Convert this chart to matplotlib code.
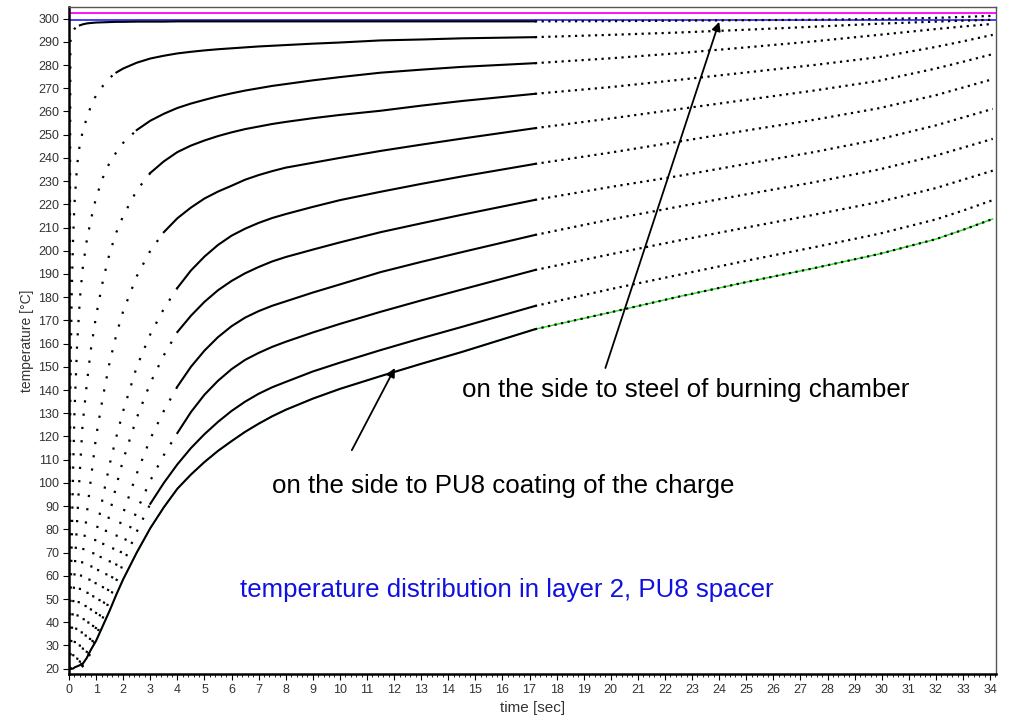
import matplotlib
matplotlib.use("Agg")
import matplotlib.pyplot as plt
from matplotlib.ticker import MultipleLocator

plt.rcParams["font.family"] = ["Liberation Sans", "DejaVu Sans"]

# sample times [s] shared by all nodes of the layer
t_sec = [0, 0.05, 0.1, 0.15, 0.2, 0.3, 0.4, 0.5, 0.65, 0.8, 1, 1.25, 1.5, 1.75, 2, 2.5, 3,
         3.5, 4, 4.5, 5, 5.5, 6, 6.5, 7, 7.5, 8, 9, 10, 11.5, 13, 14.5, 17.2,
         20, 22.5, 25, 27.5, 29.9, 32, 33, 34.1]

# node temperatures [degC], node_01 = steel side ... node_11 = PU8 coating side
node_01 = [20, 290, 293.5, 294.8, 295.6, 296.5, 297.1, 297.5, 297.9, 298.1, 298.3, 298.4, 298.5,
           298.6, 298.6, 298.7, 298.7, 298.7, 298.8, 298.8, 298.8, 298.8, 298.8, 298.8, 298.8,
           298.8, 298.8, 298.8, 298.8, 298.8, 298.8, 298.8, 298.8,
           298.9, 299.1, 299.3, 299.5, 299.8, 300.3, 300.7, 301.2]
node_02 = [20, 140, 182, 205, 220, 237, 246, 251, 257, 262, 267, 271, 274.5,
           276.8, 278.5, 281, 282.8, 284, 285, 285.7, 286.3, 286.8, 287.2, 287.6, 288,
           288.3, 288.6, 289.2, 289.7, 290.6, 291.0, 291.5, 292.0,
           293.0, 294.0, 295.2, 296.5, 297.8, 298.7, 299.1, 299.5]
node_03 = [20, 45, 75, 105, 130, 160, 179, 192, 204, 213, 223, 231.5, 238,
           242.5, 246.5, 252, 256, 259, 261.5, 263.4, 265, 266.5, 267.8, 269.0, 270.0,
           271.0, 271.8, 273.4, 274.8, 276.7, 278.0, 279.2, 280.8,
           282.9, 285.1, 287.6, 290.2, 293.0, 295.5, 296.6, 297.7]
node_04 = [20, 24, 35, 47, 60, 84, 105, 125, 142, 157, 172, 187, 199,
           208, 215, 226, 233.5, 238.5, 242.5, 245.3, 247.5, 249.4, 251, 252.4, 253.5,
           254.6, 255.5, 257.1, 258.5, 260.3, 262.5, 264.5, 267.6,
           270.5, 273.6, 276.8, 280.0, 283.4, 287.8, 290.2, 293.0]
node_05 = [20, 20.5, 22, 25, 30, 41, 54, 68, 86, 101, 120, 137, 152,
           164, 174, 189, 200, 208, 214, 218.6, 222.5, 225.5, 228, 230.6, 232.6,
           234.3, 235.8, 237.9, 240.0, 243.0, 245.7, 248.3, 252.8,
           257.0, 261.0, 265.0, 269.0, 273.2, 278.5, 281.4, 284.7]
node_06 = [20, 20, 20, 20.5, 21, 24, 30, 38, 50, 62, 78, 94, 108,
           120, 131, 150, 164, 175, 184, 191.5, 197.5, 202.5, 206.5, 209.5, 212,
           214.1, 215.8, 218.9, 221.8, 225.4, 228.8, 232.0, 237.4,
           242.3, 247.0, 251.8, 256.4, 261.4, 267.0, 270.3, 273.9]
node_07 = [20, 20, 20, 20, 20, 21, 23, 28, 36, 45, 58, 73, 87,
           99, 110, 128, 143, 155, 165, 172, 178, 183, 187, 190.3, 193,
           195.4, 197.3, 200.5, 203.6, 208.0, 211.8, 215.5, 221.9,
           227.5, 232.2, 237.4, 242.5, 248.0, 254.0, 257.4, 261.1]
node_08 = [20, 20, 20, 20, 20, 20, 21, 23, 27, 34, 44, 55, 66,
           77, 87, 104, 119, 131, 141.5, 150, 157, 162.8, 167.5, 171.2, 174,
           176.3, 178.2, 182.0, 185.5, 190.8, 195.2, 199.4, 206.8,
           213.5, 219.0, 224.3, 229.5, 235.0, 241.0, 244.4, 248.2]
node_09 = [20, 20, 20, 20, 20, 20, 20.5, 21.5, 24, 29, 38, 47, 56,
           65, 73, 88, 101, 112, 121.5, 130.5, 138, 144, 149, 153, 156,
           158.6, 160.8, 164.8, 168.5, 173.7, 178.6, 183.3, 191.7,
           198.5, 204.4, 210.0, 215.5, 221.0, 227.0, 230.6, 234.5]
node_10 = [20, 20, 20, 20, 20, 20, 20, 21, 23, 27, 34, 42, 50,
           58, 65.5, 79, 91, 100, 108, 115, 121, 126.3, 131, 135, 138.4,
           141.2, 143.5, 148.0, 151.8, 157.2, 162.3, 167.2, 176.2,
           183.5, 189.6, 195.7, 201.5, 207.3, 213.5, 217.3, 221.8]
node_11 = [20, 20, 20, 20, 20.5, 21, 21.5, 22, 24.5, 28, 32, 38.5, 45,
           52, 58.5, 70, 80.5, 89.5, 97.5, 103.6, 109, 113.8, 118, 122, 125.5,
           128.7, 131.5, 136.3, 140.5, 146.0, 151.3, 156.4, 166.2,
           173.5, 180.2, 186.5, 192.5, 198.6, 205.0, 209.0, 213.7]

nodes = [node_01, node_02, node_03, node_04, node_05, node_06,
         node_07, node_08, node_09, node_10, node_11]

# time after which the 0.1 s samples sit close enough to read as a line
dense_from = [0.4, 1.75, 2.5, 3, 3.5, 4, 4, 4, 4, 3, 0]
coarse_after = 17.2   # output step gets coarser here

steel_limit = 302.3
steel_level = 299.2

fig = plt.figure(figsize=(10.12, 7.2), dpi=100)
ax = fig.add_axes([0.0682, 0.0639, 0.916, 0.9264])

ax.axhline(steel_limit, color="#ff00ff", lw=1.3, zorder=1)
ax.axhline(steel_level, color="#3030ff", lw=1.3, zorder=1)

# green reference trace under the coating-side node
i0 = t_sec.index(0.5)
ax.plot(t_sec[i0:], node_11[i0:], color="#22dd22", lw=1.0, zorder=2)

j = t_sec.index(coarse_after)
for temps, td in zip(nodes, dense_from):
    k = t_sec.index(td)
    if k > 0:
        ax.plot(t_sec[:k + 1], temps[:k + 1], color="k", lw=1.6, ls=(0, (1, 5)), zorder=3)
    ax.plot(t_sec[k:j + 1], temps[k:j + 1], color="k", lw=1.5, zorder=3)
    ax.plot(t_sec[j:], temps[j:], color="k", lw=1.6, ls=(0, (1, 2.0)), zorder=3)

ax.set_xlim(0, 34.22)
ax.set_ylim(17.7, 305)
ax.set_xticks(range(0, 35))
ax.xaxis.set_minor_locator(MultipleLocator(0.2))
ax.set_yticks(range(20, 301, 10))
ax.tick_params(axis="both", which="major", length=4, width=0.8, labelsize=9,
               labelcolor="#333333", pad=3)
ax.tick_params(axis="x", which="minor", length=2, width=0.6)
for s in ("left", "bottom"):
    ax.spines[s].set_linewidth(1.8)
for s in ("top", "right"):
    ax.spines[s].set_linewidth(1.0)
    ax.spines[s].set_color("#555555")

ax.set_xlabel("time [sec]", fontsize=11, color="#333333", labelpad=4)
ax.set_ylabel("temperature [°C]", fontsize=10, color="#333333", labelpad=3)

arrow = dict(arrowstyle="-|>", color="k", lw=1.3, mutation_scale=13, shrinkA=0, shrinkB=0)
ax.annotate("", xy=(24.0, 298.6), xytext=(19.8, 149.5), arrowprops=arrow)
ax.annotate("", xy=(12.03, 149.5), xytext=(10.44, 114.1), arrowprops=arrow)
ax.text(14.5, 140.0, "on the side to steel of burning chamber", fontsize=18.6, va="center")
ax.text(7.5, 98.6, "on the side to PU8 coating of the charge", fontsize=18.6, va="center")
ax.text(6.3, 53.9, "temperature distribution in layer 2, PU8 spacer", fontsize=18.6,
        va="center", color="#1010e0")

fig.savefig("out.png", dpi=100)
